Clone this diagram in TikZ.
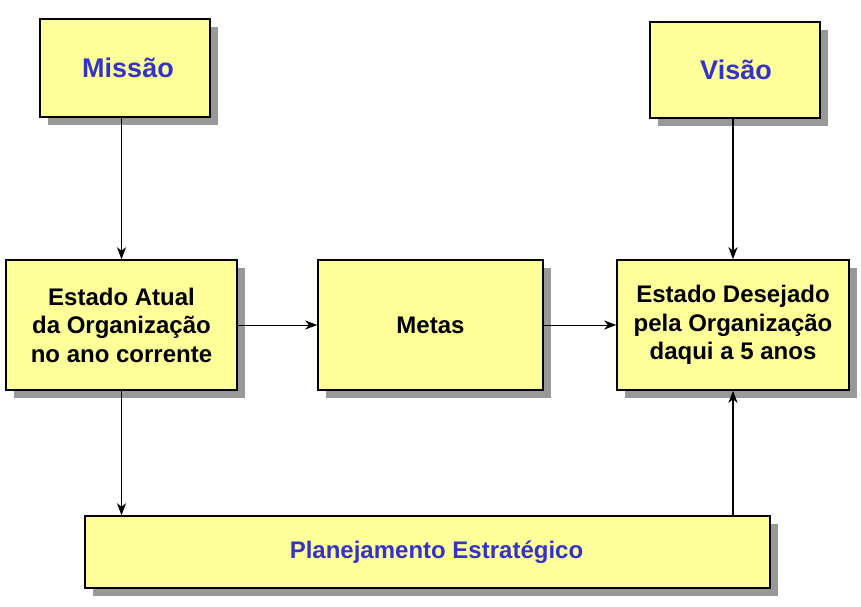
\documentclass[tikz,border=0pt]{standalone}
\usepackage{fontspec}
\setmainfont{Liberation Sans}
\usetikzlibrary{shadows,arrows.meta}
\definecolor{boxfill}{RGB}{255,255,153}
\definecolor{shadowgray}{RGB}{153,153,153}
\definecolor{titleblue}{RGB}{51,51,204}
\tikzset{
  box/.style={draw=black, line width=1.5pt, fill=boxfill, inner sep=0pt,
    align=center, font=\fontsize{24}{28.5}\selectfont\bfseries,
    drop shadow={shadow xshift=8pt, shadow yshift=-8pt, fill=shadowgray, opacity=1}},
  titlebox/.style={box, text=titleblue, font=\fontsize{27}{32}\selectfont\bfseries},
  conn/.style={draw=black, line width=1pt, -{Stealth[length=12pt,width=9pt,inset=3.5pt]}},
  thickconn/.style={conn, line width=2pt}
}
\begin{document}
\begin{tikzpicture}[x=1pt,y=-1pt]
\useasboundingbox (0,0) rectangle (861,606);
\node[titlebox, minimum width=170pt, minimum height=98pt] (missao) at (125,68) {\hspace*{6pt}Missão};
\node[titlebox, minimum width=170pt, minimum height=96pt] (visao) at (735,70) {\hspace*{2pt}Visão};
\node[box, minimum width=231pt, minimum height=130pt] (atual) at (121.5,325) {Estado Atual\\da Organização\\no ano corrente};
\node[box, minimum width=225pt, minimum height=130pt] (metas) at (430.5,325) {Metas};
\node[box, minimum width=232pt, minimum height=130pt] (desejado) at (733,325) {Estado Desejado\\pela Organização\\daqui a 5 anos};
\node[box, minimum width=685pt, minimum height=72pt, text=titleblue] (plan) at (427.5,552) {\hspace*{18pt}Planejamento Estratégico};
\draw[conn] (missao.south -| atual.north) -- (atual.north);
\draw[thickconn] (visao.south -| desejado.north) -- (desejado.north);
\draw[conn] (atual.east) -- (metas.west);
\draw[conn] (metas.east) -- (desejado.west);
\draw[conn] (atual.south) -- (atual.south |- plan.north);
\draw[thickconn] (plan.north -| desejado.south) -- (desejado.south);
\end{tikzpicture}
\end{document}
